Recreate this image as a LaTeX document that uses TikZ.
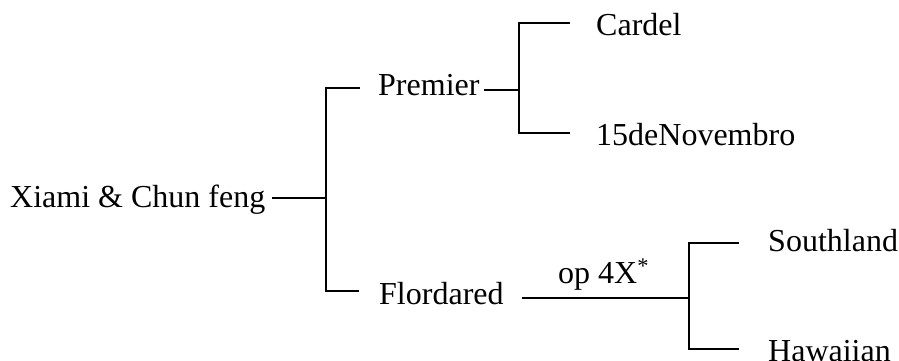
\documentclass[tikz,border=0pt]{standalone}
\usepackage{fontspec}
\setmainfont{Liberation Serif}
\begin{document}
\begin{tikzpicture}[x=1pt,y=-1pt,
  lbl/.style={anchor=base west,inner sep=0pt,font=\fontsize{32}{38}\selectfont},
  wire/.style={line width=1.6pt,line cap=rect}]
\useasboundingbox (0,0) rectangle (899,360);
% text nodes
\node[lbl] (root) at (10,207) {Xiami \& Chun feng};
\node[lbl] (prem) at (378,95) {Premier};
\node[lbl] (card) at (596,35) {Cardel};
\node[lbl] (nov) at (596,145) {15deNovembro};
\node[lbl] (flor) at (379,304) {Flordared};
\node[lbl] (op) at (558,283) {op 4X\textsuperscript{*}};
\node[lbl] (south) at (768,251) {Southland};
\node[lbl] (haw) at (768,361) {Hawaiian};
% junction coordinates
\coordinate (r0) at (273,198);
\coordinate (r1) at (326,198);
\coordinate (rt) at (326,88);
\coordinate (rb) at (326,291);
\coordinate (pt) at (359,88);
\coordinate (fb) at (358,291);
\coordinate (p0) at (485,90);
\coordinate (p1) at (519,90);
\coordinate (pct) at (519,23);
\coordinate (pcb) at (519,133);
\coordinate (ce) at (569,23);
\coordinate (ne) at (569,133);
\coordinate (f0) at (523,298);
\coordinate (f1) at (689,298);
\coordinate (fct) at (689,243);
\coordinate (fcb) at (689,349);
\coordinate (se) at (738,243);
\coordinate (he) at (738,349);
% connectors
\draw[wire] (r0) -- (r1);
\draw[wire] (pt) -- (rt) -- (rb) -- (fb);
\draw[wire] (p0) -- (p1);
\draw[wire] (ce) -- (pct) -- (pcb) -- (ne);
\draw[wire] (f0) -- (f1);
\draw[wire] (se) -- (fct) -- (fcb) -- (he);
\end{tikzpicture}
\end{document}
